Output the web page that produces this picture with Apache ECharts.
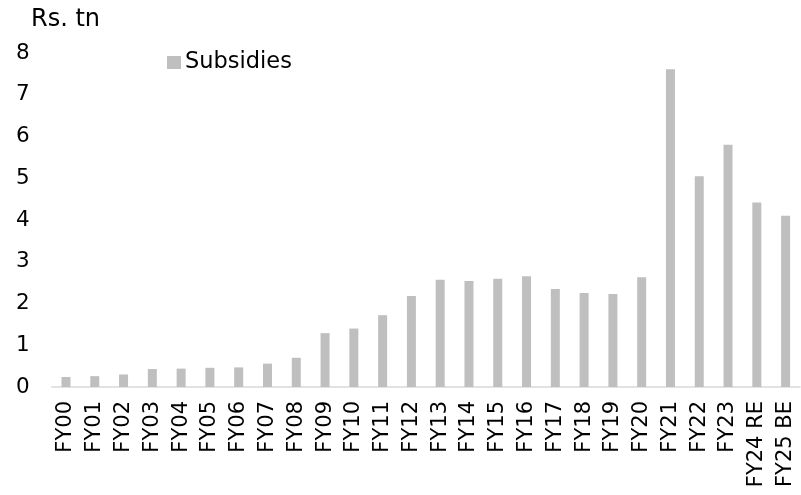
<!DOCTYPE html>
<html>
<head>
<meta charset="utf-8">
<script src="https://cdn.jsdelivr.net/npm/echarts@6/dist/echarts.min.js"></script>
<style>html,body{margin:0;padding:0;background:#fff;}#c{width:801px;height:495px;}</style>
</head>
<body>
<div id="c"></div>
<script>
const categories = ['FY00','FY01','FY02','FY03','FY04','FY05','FY06','FY07','FY08','FY09','FY10','FY11','FY12','FY13','FY14','FY15','FY16','FY17','FY18','FY19','FY20','FY21','FY22','FY23','FY24 RE','FY25 BE'];
const subsidies = [0.24,0.26,0.30,0.43,0.44,0.46,0.47,0.56,0.70,1.29,1.40,1.72,2.18,2.57,2.54,2.59,2.65,2.35,2.25,2.23,2.63,7.61,5.05,5.80,4.42,4.10];
const yTicks = {min:0, max:8, interval:1};
const font = 'DejaVu Sans';
const chart = echarts.init(document.getElementById('c'), null, {renderer:'canvas'});
chart.setOption({
  animation:false,
  title:{text:'Rs. tn', left:26, top:3, textStyle:{fontFamily:font, fontSize:24, fontWeight:'normal', color:'#000'}},
  legend:{data:['Subsidies'], left:162, top:46, icon:'rect', itemWidth:14, itemHeight:13, itemGap:4,
    textStyle:{fontFamily:font, fontSize:22.5, color:'#000', padding:[0,0,0,-1]}},
  grid:{left:51.6, right:1, top:53, bottom:108, containLabel:false},
  xAxis:{type:'category', data:categories,
    axisLine:{lineStyle:{color:'#d9d9d9', width:1.5}},
    axisTick:{show:false},
    axisLabel:{rotate:90, interval:0, margin:14, fontFamily:font, fontSize:21, color:'#000'}},
  yAxis:{type:'value', min:yTicks.min, max:yTicks.max, interval:yTicks.interval,
    splitLine:{show:false}, axisLine:{show:false}, axisTick:{show:false},
    axisLabel:{margin:22, fontFamily:font, fontSize:21.5, color:'#000'}},
  series:[{name:'Subsidies', type:'bar', data:subsidies, barWidth:9, itemStyle:{color:'#bfbfbf'}}]
});
</script>
</body>
</html>
